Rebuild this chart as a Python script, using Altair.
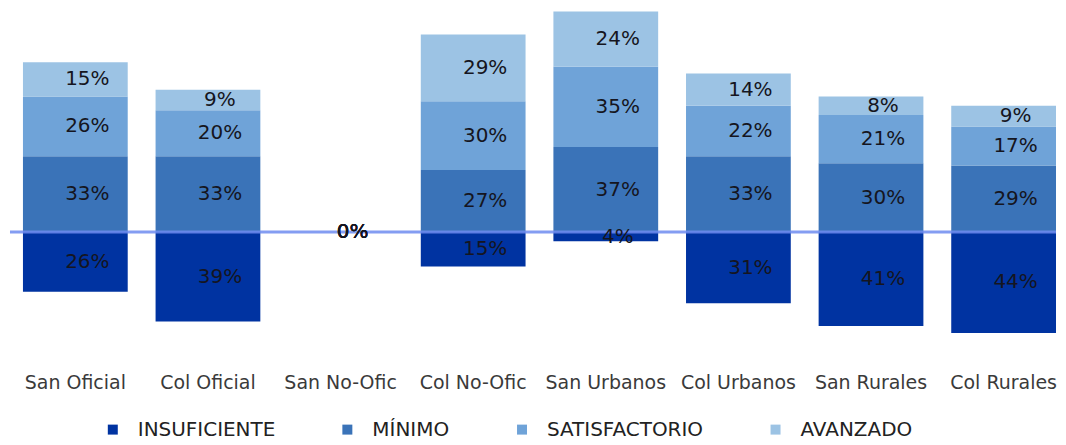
import altair as alt
import pandas as pd

FONT = "DejaVu Sans"

categories = ["San Oficial", "Col Oficial", "San No-Ofic", "Col No-Ofic",
              "San Urbanos", "Col Urbanos", "San Rurales", "Col Rurales"]
levels = ["INSUFICIENTE", "MÍNIMO", "SATISFACTORIO", "AVANZADO"]
insuficiente = [26, 39, 0, 15, 4, 31, 41, 44]
minimo = [33, 33, 0, 27, 37, 33, 30, 29]
satisfactorio = [26, 20, 0, 30, 35, 22, 21, 17]
avanzado = [15, 9, 0, 29, 24, 14, 8, 9]
colors = ["#0033a1", "#3a73b8", "#6fa3d8", "#9cc3e4"]

rows = []
for i, c in enumerate(categories):
    v = insuficiente[i]
    rows.append(dict(cat=c, level=levels[0], order=0, y0=0, y1=-v, mid=-v / 2, label=f"{v}%"))
    base = 0
    for k, series in enumerate([minimo, satisfactorio, avanzado], start=1):
        v = series[i]
        rows.append(dict(cat=c, level=levels[k], order=k, y0=base, y1=base + v,
                         mid=base + v / 2, label=f"{v}%"))
        base += v
df = pd.DataFrame(rows)

xscale = alt.Scale(paddingInner=0.21, paddingOuter=0.0564, align=1)
yscale = alt.Scale(domain=[-50, 97.4], nice=False, zero=False)

x = alt.X("cat:N", sort=categories, title=None, scale=xscale,
          axis=alt.Axis(labelAngle=0, domain=False, ticks=False, labelPadding=27,
                        labelFontSize=19, labelColor="#3a3a3a", labelFont=FONT))

bars = alt.Chart(df).mark_bar().encode(
    x=x,
    y=alt.Y("y0:Q", scale=yscale, axis=None),
    y2="y1:Q",
    color=alt.Color("level:N", scale=alt.Scale(domain=levels, range=colors),
                    legend=alt.Legend(title=None, orient="none", legendX=95, legendY=412,
                                      direction="horizontal", columns=4, columnPadding=62,
                                      symbolType="square", symbolSize=100,
                                      symbolStrokeWidth=0, labelFontSize=20,
                                      labelFont=FONT, labelColor="#222222",
                                      labelOffset=15, labelLimit=300)),
)

zero = alt.Chart(pd.DataFrame({"z": [0]})).mark_rule(
    color="#6f8cf0", strokeWidth=3, opacity=0.85
).encode(y=alt.Y("z:Q", scale=yscale), x=alt.value(2), x2=alt.value(1050))

text = alt.Chart(df).mark_text(dx=12, fontSize=20, font=FONT, color="#151520",
                               baseline="middle").encode(
    x=alt.X("cat:N", sort=categories),
    y=alt.Y("mid:Q", scale=yscale),
    text="label:N",
)

chart = alt.layer(bars, zero, text).properties(
    width=1050, height=339,
    padding={"left": 0, "top": 0, "right": 0, "bottom": 0},
    background="white",
).configure_view(stroke=None)

chart.save("out.html", embed_options={"renderer": "svg", "actions": False})
